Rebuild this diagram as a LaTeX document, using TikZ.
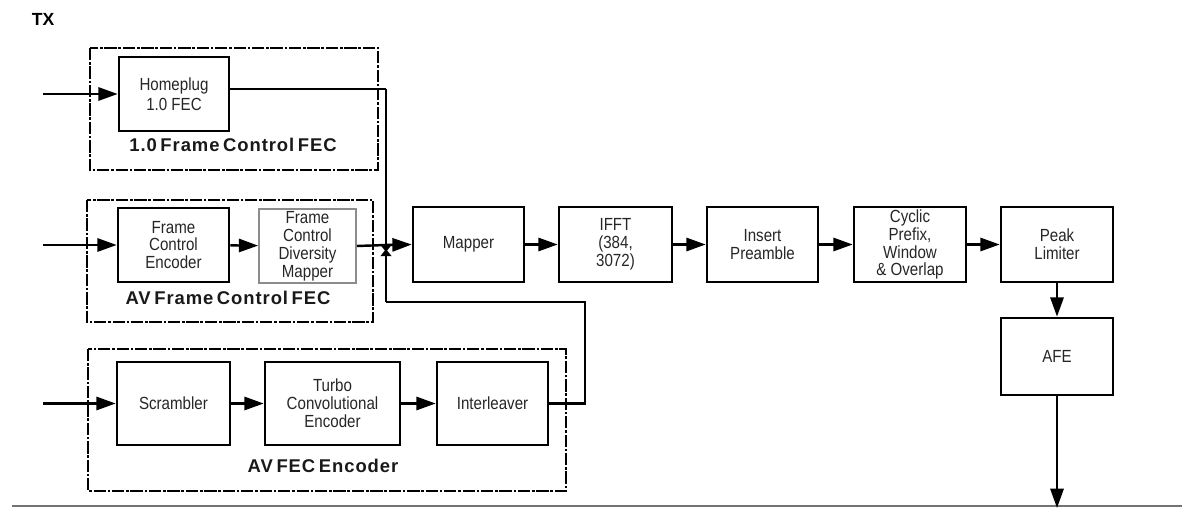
\documentclass[tikz,border=0pt]{standalone}
\usepackage{fontspec}
\setmainfont{Liberation Sans}
\newfontfamily\narrowfont[FakeStretch=0.86]{Liberation Sans}
\newfontfamily\spacedfont[LetterSpace=5,WordSpace=0.6]{Liberation Sans}
\usetikzlibrary{arrows.meta}
\begin{document}
\begin{tikzpicture}[x=0.02cm,y=-0.02cm,
  blk/.style={draw=black, line width=1.5pt, text=black!85, align=center, inner sep=1pt,
    font=\narrowfont\fontsize{10}{10.2}\selectfont},
  grayblk/.style={blk, draw=black!45, line width=1pt},
  groupbox/.style={draw=black, line width=1pt, dash pattern=on 7pt off 1pt on 1.5pt off 1pt},
  grouplabel/.style={font=\spacedfont\fontsize{10.5}{12}\selectfont\bfseries, text=black!90},
  conn/.style={line width=1.4pt},
  arr/.style={conn, -{Triangle[length=11pt,width=7.5pt]}},
  smallarr/.style={conn, -{Triangle[length=4pt,width=6pt]}}
]
\useasboundingbox (0,0) rectangle (1182,510);

\node[font=\fontsize{10}{11}\selectfont\bfseries] (tx) at (43,19) {TX};

% group boxes
\draw[groupbox] (90,48) rectangle (378,170);
\draw[groupbox] (87,200) rectangle (373,322);
\draw[groupbox] (88,349) rectangle (566,491);
\node[grouplabel] (l1) at (233,145) {1.0 Frame Control FEC};
\node[grouplabel] (l2) at (228,298) {AV Frame Control FEC};
\node[grouplabel] (l3) at (323,466) {AV FEC Encoder};

% blocks
\node[blk, minimum width=2.2cm, minimum height=1.48cm, font=\narrowfont\fontsize{10}{11.3}\selectfont] (hp) at (174,94) {Homeplug\\1.0 FEC};
\node[blk, minimum width=2.22cm, minimum height=1.48cm] (fce) at (173.5,245) {Frame\\Control\\Encoder};
\node[grayblk, minimum width=1.94cm, minimum height=1.48cm] (fcdm) at (307.5,246) {Frame\\Control\\Diversity\\Mapper};
\node[blk, minimum width=2.26cm, minimum height=1.66cm] (scr) at (173.5,403.5) {Scrambler};
\node[blk, minimum width=2.7cm, minimum height=1.66cm] (tce) at (332.5,403.5) {Turbo\\Convolutional\\Encoder};
\node[blk, minimum width=2.22cm, minimum height=1.66cm] (il) at (492.5,403.5) {Interleaver};
\node[blk, minimum width=2.22cm, minimum height=1.5cm] (map) at (468.5,244.5) {Mapper};
\node[blk, minimum width=2.26cm, minimum height=1.5cm] (ifft) at (615.5,244.5) {IFFT\\(384,\\3072)};
\node[blk, minimum width=2.22cm, minimum height=1.5cm] (ip) at (762.5,244.5) {Insert\\Preamble};
\node[blk, minimum width=2.24cm, minimum height=1.5cm] (cp) at (910,244.5) {Cyclic\\Prefix,\\Window\\\&\ Overlap};
\node[blk, minimum width=2.24cm, minimum height=1.5cm] (pl) at (1057,244.5) {Peak\\Limiter};
\node[blk, minimum width=2.24cm, minimum height=1.54cm] (afe) at (1057,356.5) {AFE};

% inputs
\coordinate (in1) at (43,94);
\coordinate (in2) at (43,245);
\coordinate (in3) at (43,403.5);
\draw[arr] (in1) -- (hp.west);
\draw[arr] (in2) -- (fce.west);
\draw[arr] (in3) -- (scr.west);

% inner arrows
\draw[arr] (fce) -- (fcdm);
\draw[arr] (scr) -- (tce);
\draw[arr] (tce) -- (il);

% junction
\coordinate (ja) at (386,89);
\coordinate (j) at (386,245);
\coordinate (jd) at (386,252);
\coordinate (ju) at (386,249);
\coordinate (jb) at (386,302);
\coordinate (kb) at (585,302);
\coordinate (hpo) at (229,89);
\draw[conn] (hpo) -- (ja);
\draw[smallarr] (ja) -- (jd);
\draw[conn] (il.east) -| (kb) -- (jb);
\draw[smallarr] (jb) -- (ju);
\draw[conn] (fcdm.east) -- (j);
\draw[arr] (j) -- (map.west);

% main chain
\draw[arr] (map) -- (ifft);
\draw[arr] (ifft) -- (ip);
\draw[arr] (ip) -- (cp);
\draw[arr] (cp) -- (pl);
\draw[arr] (pl) -- (afe);

% bottom rule and output
\coordinate (rl) at (12,506);
\coordinate (rr) at (1182,506);
\draw[black!55, line width=0.9pt] (rl) -- (rr);
\coordinate (out) at (1057,508);
\draw[arr] (afe.south) -- (out);
\end{tikzpicture}
\end{document}
